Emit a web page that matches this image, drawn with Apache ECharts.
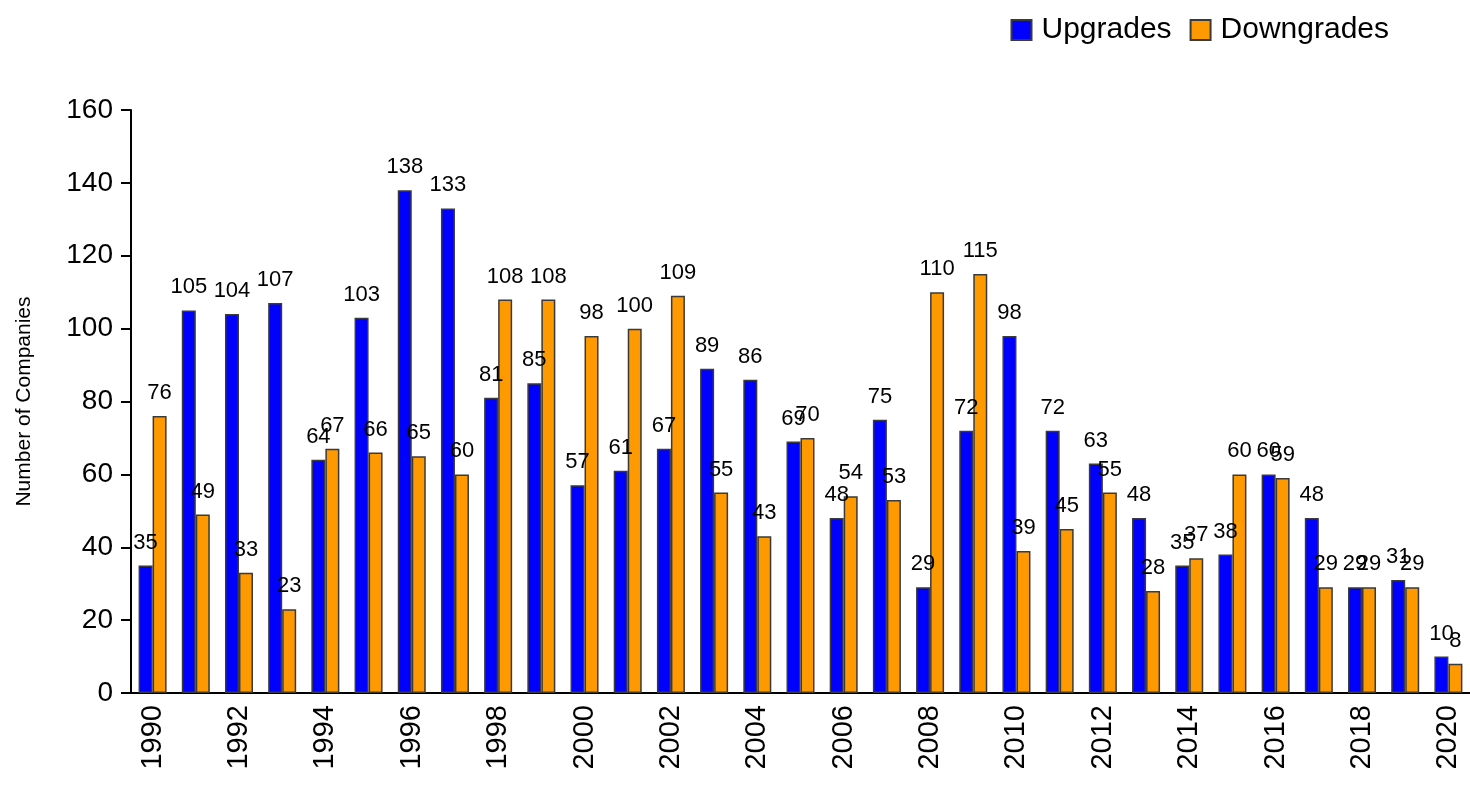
<!DOCTYPE html>
<html>
<head>
<meta charset="utf-8">
<script src="https://cdn.jsdelivr.net/npm/echarts@6/dist/echarts.min.js"></script>
<style>
  html, body { margin: 0; padding: 0; background: #fff; }
  #chart { width: 1470px; height: 789px; }
</style>
</head>
<body>
<div id="chart"></div>
<script>
// rating changes per year
const years = ['1990', '1991', '1992', '1993', '1994', '1995', '1996', '1997', '1998', '1999',
  '2000', '2001', '2002', '2003', '2004', '2005', '2006', '2007', '2008', '2009',
  '2010', '2011', '2012', '2013', '2014', '2015', '2016', '2017', '2018', '2019', '2020']
const upgrades = [35, 105, 104, 107, 64, 103, 138, 133, 81, 85,
  57, 61, 67, 89, 86, 69, 48, 75, 29, 72,
  98, 72, 63, 48, 35, 38, 60, 48, 29, 31, 10]
const downgrades = [76, 49, 33, 23, 67, 66, 65, 60, 108, 108,
  98, 100, 109, 55, 43, 70, 54, 53, 110, 115,
  39, 45, 55, 28, 37, 60, 59, 29, 29, 29, 8]
const yTicks = [0, 160, 20] // min, max, step

const font = 'Liberation Sans, Arial, sans-serif'
const chart = echarts.init(document.getElementById('chart'))

const barLabel = {
  show: true,
  position: 'top',
  distance: 12,
  color: '#000',
  fontSize: 22,
  fontFamily: font
}

chart.setOption({
  animation: false,
  textStyle: { fontFamily: font, color: '#000' },
  legend: {
    top: 10,
    right: 76,
    icon: 'rect',
    itemWidth: 20,
    itemHeight: 20,
    itemGap: 18,
    textStyle: { fontSize: 30, color: '#000', fontFamily: font, padding: [0, 0, 0, 5] },
    data: ['Upgrades', 'Downgrades']
  },
  grid: {
    left: 131,
    right: -3,
    top: 110,
    bottom: 96
  },
  xAxis: {
    type: 'category',
    data: years,
    axisLine: { lineStyle: { color: '#000', width: 2 } },
    axisTick: { show: false },
    axisLabel: {
      interval: 1,
      rotate: 90,
      fontSize: 29,
      color: '#000',
      margin: 12
    }
  },
  yAxis: {
    type: 'value',
    min: yTicks[0],
    max: yTicks[1],
    interval: yTicks[2],
    name: 'Number of Companies',
    nameLocation: 'middle',
    nameRotate: 90,
    nameGap: 96,
    nameTextStyle: { fontSize: 21, color: '#000' },
    axisLine: { show: true, lineStyle: { color: '#000', width: 2 } },
    axisTick: { show: true, length: 10, lineStyle: { color: '#000', width: 2 } },
    axisLabel: { fontSize: 28, color: '#000', margin: 18 },
    splitLine: { show: false }
  },
  series: [
    {
      name: 'Upgrades',
      type: 'bar',
      data: upgrades,
      barWidth: 14,
      barGap: '0%',
      itemStyle: { color: '#0000ff', borderColor: '#3a3a3a', borderWidth: 1.5 },
      label: barLabel
    },
    {
      name: 'Downgrades',
      type: 'bar',
      data: downgrades,
      barWidth: 14,
      barGap: '0%',
      itemStyle: { color: '#ff9900', borderColor: '#3a3a3a', borderWidth: 1.5 },
      label: barLabel
    }
  ]
})
</script>
</body>
</html>
